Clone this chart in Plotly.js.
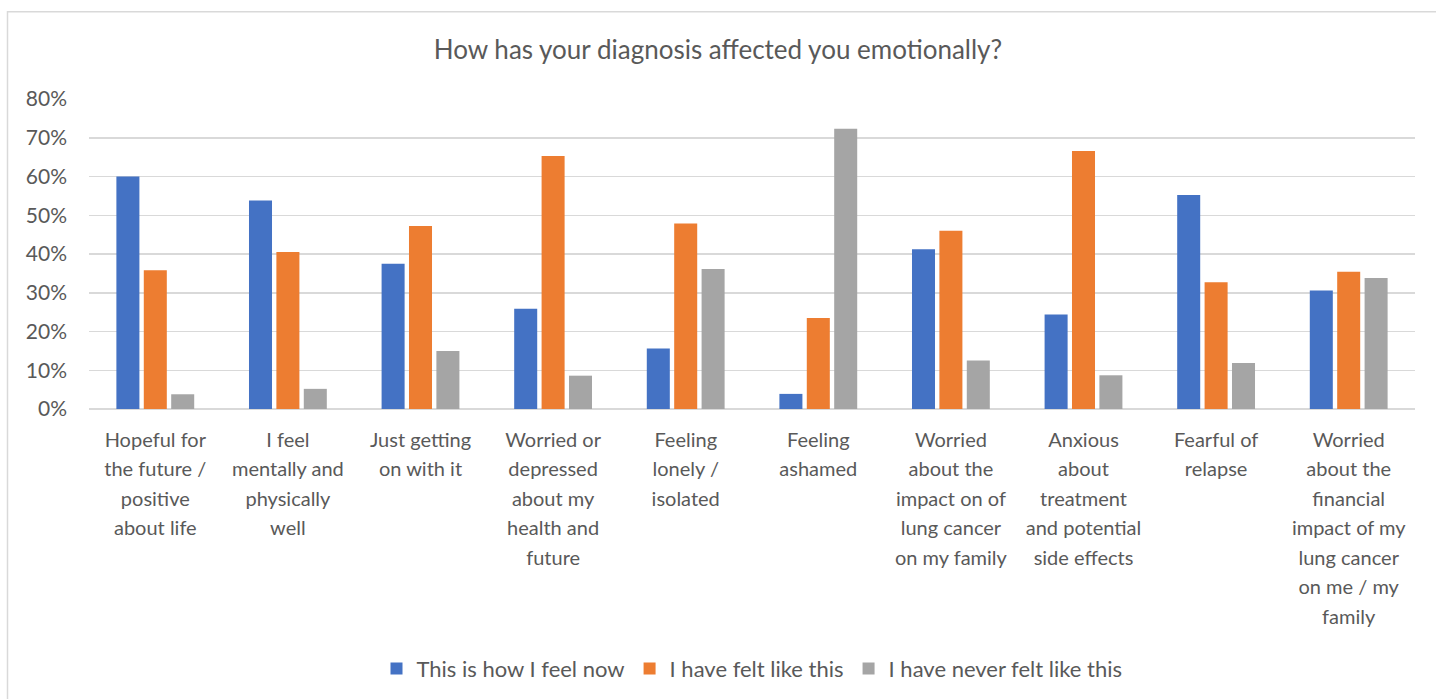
<!DOCTYPE html>
<html>
<head>
<meta charset="utf-8">
<script src="https://cdn.plot.ly/plotly-3.0.1.min.js"></script>
<style>html,body{margin:0;padding:0;background:#fff;}#chart{width:1436px;height:699px;}</style>
</head>
<body>
<div id="chart"></div>
<script>
const categories = [
  "Hopeful for<br>the future /<br>positive<br>about life",
  "I feel<br>mentally and<br>physically<br>well",
  "Just getting<br>on with it",
  "Worried or<br>depressed<br>about my<br>health and<br>future",
  "Feeling<br>lonely /<br>isolated",
  "Feeling<br>ashamed",
  "Worried<br>about the<br>impact on of<br>lung cancer<br>on my family",
  "Anxious<br>about<br>treatment<br>and potential<br>side effects",
  "Fearful of<br>relapse",
  "Worried<br>about the<br>financial<br>impact of my<br>lung cancer<br>on me / my<br>family"
];
const seriesNames = ["This is how I feel now", "I have felt like this", "I have never felt like this"];
const feelNow   = [0.600, 0.538, 0.375, 0.259, 0.156, 0.039, 0.412, 0.244, 0.552, 0.306];
const feltLike  = [0.358, 0.405, 0.472, 0.653, 0.479, 0.235, 0.460, 0.666, 0.327, 0.354];
const neverFelt = [0.038, 0.052, 0.150, 0.086, 0.361, 0.723, 0.125, 0.087, 0.119, 0.338];
const colors = ["#4472C4", "#ED7D31", "#A5A5A5"];
const yTickVals = [0, 0.1, 0.2, 0.3, 0.4, 0.5, 0.6, 0.7, 0.8];
const yTickText = ["0%", "10%", "20%", "30%", "40%", "50%", "60%", "70%", "80%"];

const FONT = "Lato, 'Open Sans', sans-serif";
// Tick text: same category wording, drawn with a smaller inner size so the
// line spacing (driven by the base font size) matches the reference.
const xTickText = categories.map(c => c.split("<br>").map(l => '<span style="font-size:20px">' + l + '</span>').join("<br>"));

const allSeries = [feelNow, feltLike, neverFelt];
const data = allSeries.map((vals, i) => ({
  type: "bar",
  name: seriesNames[i],
  x: categories,
  y: vals,
  marker: {color: colors[i], line: {width: 0}},
  hoverinfo: "x+y"
}));

const layout = {
  width: 1436, height: 699,
  margin: {l: 89, r: 21, t: 99.3, b: 289.3},
  paper_bgcolor: "#ffffff", plot_bgcolor: "#ffffff",
  font: {family: FONT, color: "#595959", size: 20},
  title: {text: "How has your diagnosis affected you emotionally?", x: 0.5, xanchor: "center", y: 0.928, yanchor: "middle", yref: "container", font: {size: 26, color: "#595959", family: FONT}},
  barmode: "group",
  bargap: 0.38,
  bargroupgap: 0.16,
  xaxis: {
    type: "category", showgrid: false, zeroline: false, showline: false,
    tickmode: "array", tickvals: categories, ticktext: xTickText,
    ticks: "", tickfont: {size: 22.7, color: "#595959", family: FONT}, tickangle: 0,
    ticklabelstandoff: 14, automargin: false
  },
  yaxis: {
    range: [0, 0.8], tickvals: yTickVals, ticktext: yTickText,
    showgrid: true, gridcolor: "#d9d9d9", gridwidth: 1.5,
    zeroline: true, zerolinecolor: "#d9d9d9", zerolinewidth: 1.5,
    showline: false, ticks: "", ticklabelstandoff: 21,
    tickfont: {size: 21, color: "#595959", family: FONT}, automargin: false
  },
  legend: {
    orientation: "h", x: 0.5, xanchor: "center", y: -0.832, yanchor: "middle",
    font: {size: 22, color: "#595959", family: FONT}, itemwidth: 30,
    traceorder: "normal"
  },
  shapes: [{
    type: "rect", xref: "paper", yref: "paper",
    x0: (7.5 - 89) / 1326, x1: (1440 - 89) / 1326,
    y0: (409.7 - 705) / 310.4, y1: (409.7 - 12) / 310.4,
    line: {color: "#d9d9d9", width: 1.5}, fillcolor: "rgba(0,0,0,0)", layer: "below"
  }],
  showlegend: true
};

Plotly.newPlot("chart", data, layout, {displayModeBar: false, staticPlot: true});
</script>
</body>
</html>
